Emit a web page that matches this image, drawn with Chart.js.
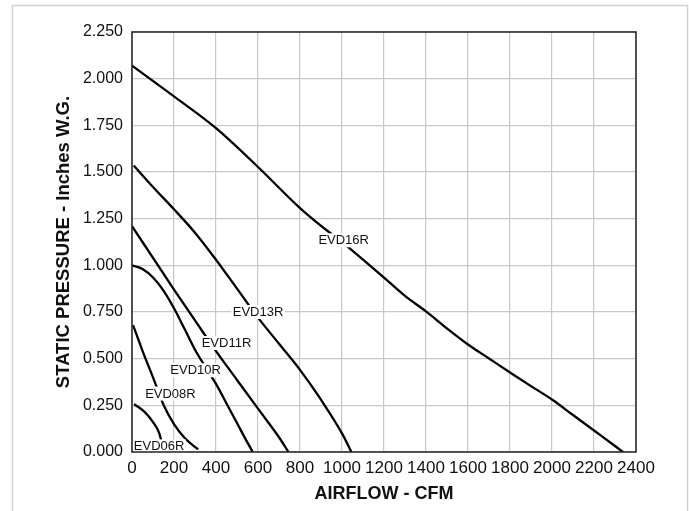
<!DOCTYPE html>
<html>
<head>
<meta charset="utf-8">
<style>
  html, body { margin: 0; padding: 0; background: #ffffff; }
  canvas { display: block; }
</style>
<script src="https://cdn.jsdelivr.net/npm/chart.js@4.4.1/dist/chart.umd.min.js"></script>
</head>
<body>
<canvas id="fanChart" width="689" height="511"></canvas>
<script>
// Fan performance curves: static pressure (in. W.G.) versus airflow (CFM)
const modelNames = ["EVD06R", "EVD08R", "EVD10R", "EVD11R", "EVD13R", "EVD16R"];

const evd06Cfm = [10, 60, 100, 130, 150];
const evd06Sp  = [0.256, 0.215, 0.160, 0.100, 0.008];

const evd08Cfm = [5, 50, 100, 150, 200, 250, 300, 315];
const evd08Sp  = [0.680, 0.542, 0.400, 0.253, 0.149, 0.076, 0.027, 0.015];

const evd10Cfm = [0, 50, 100, 150, 200, 250, 300, 350, 400, 450, 500, 550, 575];
const evd10Sp  = [1.000, 0.980, 0.935, 0.865, 0.770, 0.660, 0.548, 0.455, 0.365, 0.260, 0.155, 0.050, 0.000];

const evd11Cfm = [0, 100, 200, 300, 400, 500, 600, 700, 745];
const evd11Sp  = [1.210, 1.040, 0.870, 0.705, 0.540, 0.386, 0.232, 0.079, 0.000];

const evd13Cfm = [8, 100, 200, 300, 400, 500, 600, 700, 800, 900, 1000, 1045];
const evd13Sp  = [1.535, 1.420, 1.300, 1.175, 1.030, 0.875, 0.720, 0.580, 0.440, 0.280, 0.100, 0.000];

const evd16Cfm = [0, 200, 400, 600, 800, 900, 1000, 1100, 1200, 1300, 1400, 1500, 1600, 1700, 1800, 1900, 2000, 2100, 2200, 2300, 2338];
const evd16Sp  = [2.070, 1.905, 1.735, 1.527, 1.307, 1.212, 1.124, 1.031, 0.934, 0.836, 0.753, 0.662, 0.576, 0.501, 0.426, 0.353, 0.281, 0.198, 0.115, 0.032, 0.000];

// Where each model name is written along its curve (CFM, in. W.G.)
const labelCfm = [129, 183, 303, 450, 600, 1008];
const labelSp  = [0.030, 0.313, 0.438, 0.584, 0.750, 1.134];

// Axis ticks
const cfmTicks = [0, 200, 400, 600, 800, 1000, 1200, 1400, 1600, 1800, 2000, 2200, 2400];
const spTicks  = [0, 0.25, 0.5, 0.75, 1.0, 1.25, 1.5, 1.75, 2.0, 2.25];

const seriesCfm = [evd06Cfm, evd08Cfm, evd10Cfm, evd11Cfm, evd13Cfm, evd16Cfm];
const seriesSp  = [evd06Sp, evd08Sp, evd10Sp, evd11Sp, evd13Sp, evd16Sp];

const datasets = modelNames.map((name, i) => ({
  label: name,
  data: seriesCfm[i].map((x, j) => ({ x: x, y: seriesSp[i][j] })),
  showLine: true,
  borderColor: '#000000',
  borderWidth: 2.3,
  pointRadius: 0,
  pointHoverRadius: 0,
  cubicInterpolationMode: 'monotone',
  fill: false
}));

// Grey page frame behind the chart
const pageFrame = {
  id: 'pageFrame',
  beforeDraw(chart) {
    const ctx = chart.ctx;
    ctx.save();
    ctx.fillStyle = '#ffffff';
    ctx.fillRect(0, 0, chart.width, chart.height);
    ctx.strokeStyle = '#d2d2d2';
    ctx.lineWidth = 1.5;
    ctx.strokeRect(12.5, 5.5, 675, 530);
    ctx.restore();
  }
};

// Model names written on the curves with a white backing
const curveLabels = {
  id: 'curveLabels',
  afterDatasetsDraw(chart) {
    const ctx = chart.ctx;
    const xs = chart.scales.x, ys = chart.scales.y;
    ctx.save();
    ctx.font = '13px "Liberation Sans", Arial, sans-serif';
    ctx.textAlign = 'center';
    ctx.textBaseline = 'middle';
    modelNames.forEach((name, i) => {
      const px = xs.getPixelForValue(labelCfm[i]);
      const py = ys.getPixelForValue(labelSp[i]);
      const w = ctx.measureText(name).width;
      ctx.fillStyle = '#ffffff';
      ctx.fillRect(px - w / 2 - 1.5, py - 7, w + 3, 14);
      ctx.fillStyle = '#111111';
      ctx.fillText(name, px, py + 0.5);
    });
    ctx.restore();
  }
};

// Dark outline around the plotting area
const plotFrame = {
  id: 'plotFrame',
  afterDraw(chart) {
    const a = chart.chartArea;
    const ctx = chart.ctx;
    ctx.save();
    ctx.strokeStyle = '#222222';
    ctx.lineWidth = 1.5;
    ctx.strokeRect(a.left, a.top, a.right - a.left, a.bottom - a.top);
    ctx.restore();
  }
};

new Chart(document.getElementById('fanChart'), {
  type: 'scatter',
  data: { datasets: datasets },
  plugins: [pageFrame, curveLabels, plotFrame],
  options: {
    responsive: false,
    devicePixelRatio: 1,
    animation: false,
    layout: { padding: { left: 0, top: 32, right: 53, bottom: 0 } },
    plugins: {
      legend: { display: false },
      tooltip: { enabled: false }
    },
    scales: {
      x: {
        type: 'linear',
        min: cfmTicks[0],
        max: cfmTicks[cfmTicks.length - 1],
        afterBuildTicks(scale) { scale.ticks = cfmTicks.map(v => ({ value: v })); },
        afterFit(scale) { scale.height = 59; },
        grid: { color: '#c8c8c8', lineWidth: 1.2, drawTicks: false },
        border: { display: false },
        ticks: {
          autoSkip: false,
          maxRotation: 0,
          padding: 6,
          color: '#111111',
          font: { family: '"Liberation Sans Narrow", "Liberation Sans", Arial, sans-serif', size: 17 },
          callback: v => String(v)
        },
        title: {
          display: true,
          text: 'AIRFLOW - CFM',
          color: '#111111',
          padding: { top: 0, bottom: 6 },
          font: { family: '"Liberation Sans", Arial, sans-serif', size: 18, weight: 'bold' }
        }
      },
      y: {
        type: 'linear',
        min: spTicks[0],
        max: spTicks[spTicks.length - 1],
        afterBuildTicks(scale) { scale.ticks = spTicks.map(v => ({ value: v })); },
        afterFit(scale) { scale.width = 132; },
        grid: { color: '#c8c8c8', lineWidth: 1.2, drawTicks: false },
        border: { display: false },
        ticks: {
          padding: 9,
          color: '#111111',
          font: { family: '"Liberation Sans", Arial, sans-serif', size: 16 },
          callback: v => Number(v).toFixed(3)
        },
        title: {
          display: true,
          text: 'STATIC PRESSURE - Inches W.G.',
          color: '#111111',
          padding: { top: 53, bottom: 0 },
          font: { family: '"Liberation Sans", Arial, sans-serif', size: 18.5, weight: 'bold' }
        }
      }
    }
  }
});
</script>
</body>
</html>
